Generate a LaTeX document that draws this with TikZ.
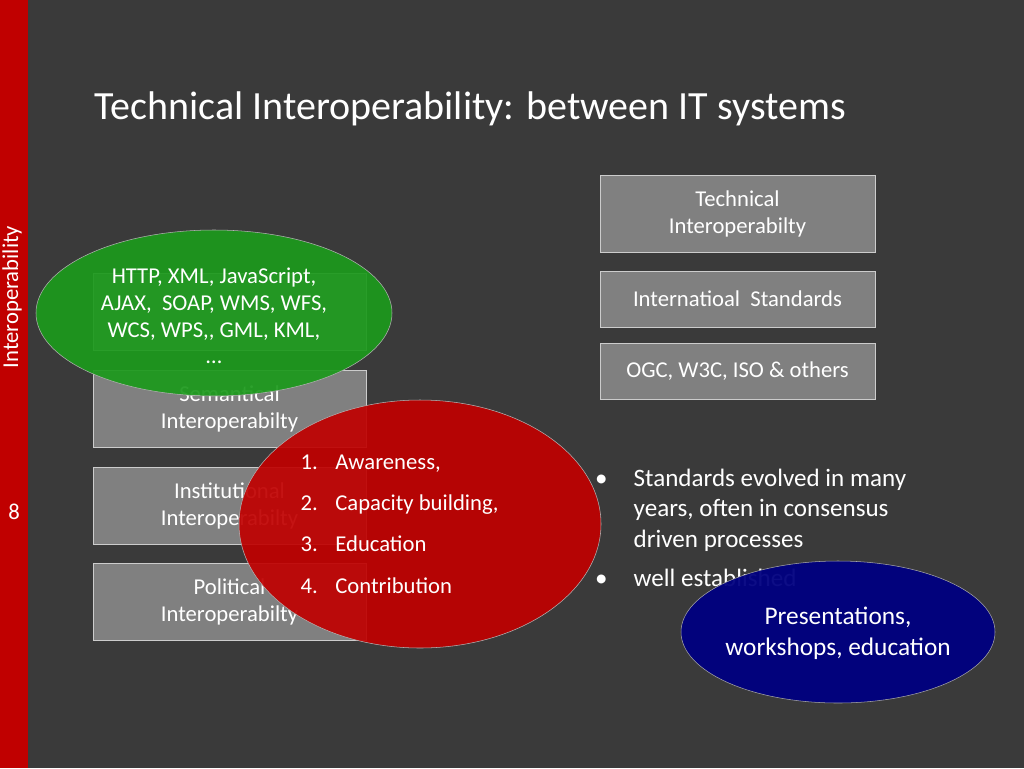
\documentclass[tikz,border=0pt]{standalone}
\usepackage{fontspec}
\setmainfont{Carlito}
\usetikzlibrary{positioning}
\definecolor{slide}{HTML}{3A3A3A}
\definecolor{barred}{HTML}{C00000}
\definecolor{boxgray}{HTML}{808080}
\definecolor{ovgreen}{HTML}{1C9A1C}
\definecolor{ovred}{HTML}{C00000}
\definecolor{ovblue}{HTML}{000080}
\begin{document}
\begin{tikzpicture}[x=0.75pt, y=-0.75pt, font=\fontsize{17}{20}\selectfont, text=white,
    layer/.style = {draw=gray!40, fill=boxgray, minimum width=205pt, minimum height=58pt, align=center, inner sep=0pt},
    tag/.style = {draw=gray!40, fill=boxgray, minimum width=206pt, minimum height=42pt, align=center, inner sep=0pt}]
        \fill[slide] (0,0) rectangle (1024,768);
        \useasboundingbox (0,0) rectangle (1024,768);
        \fill[barred] (0,0) rectangle (28,768);
        \node[rotate=90] (side) at (12,297) {Interoperability};
        \node (page) at (14,512) {8};
        \node[anchor=west, font=\fontsize{30}{34}\selectfont] (title) at (90,109) {Technical Interoperability: between IT systems};

        % layer boxes
        \node[layer] (syn) at (229.5,312) {};
        \node[layer] (sem) at (229.5,409) {Semantical\\Interoperabilty};
        \node[layer] (ins) at (229.5,506) {Institutional\\Interoperabilty};
        \node[layer] (pol) at (229.5,602) {Political\\Interoperabilty};

        % tags on the right
        \node[layer, minimum width=206pt] (tech) at (737.5,214) {Technical\\Interoperabilty};
        \node[tag] (std) at (737.5,299) {Internatioal\ \ Standards};
        \node[tag, below=12pt of std] (org) {OGC, W3C, ISO \& others};

        % bullets
        \node[anchor=north west, align=left, font=\fontsize{18.8}{23}\selectfont] (facts) at (585,464)
            {\makebox[33pt][l]{\hspace{4pt}•}Standards evolved in many\\
             \hspace{33pt}years, often in consensus\\
             \hspace{33pt}driven processes\\[6pt]
             \makebox[33pt][l]{\hspace{4pt}•}well established};

        % ovals
        \draw[fill=ovgreen, draw=gray!60, fill opacity=0.92] (214,313) ellipse [x radius=178, y radius=83];
        \node[align=center] (web) at (214,316) {HTTP, XML, JavaScript,\\AJAX,\ \ SOAP, WMS, WFS,\\WCS, WPS{,}{,} GML, KML,\\…};
        \draw[fill=ovred, draw=gray!60, fill opacity=0.92] (420,524) ellipse [x radius=181, y radius=124];
        \node[anchor=north west, align=left, font=\fontsize{17}{31}\selectfont] (steps) at (296,450)
            {\makebox[26pt][l]{1.}Awareness,\\\makebox[26pt][l]{2.}Capacity building,\\\makebox[26pt][l]{3.}Education\\\makebox[26pt][l]{4.}Contribution};
        \draw[fill=ovblue, draw=gray!70, fill opacity=0.95] (838,632) ellipse [x radius=157, y radius=71];
        \node[align=center, font=\fontsize{19}{23}\selectfont] (pres) at (838,633) {Presentations,\\workshops, education};
\end{tikzpicture}
\end{document}
